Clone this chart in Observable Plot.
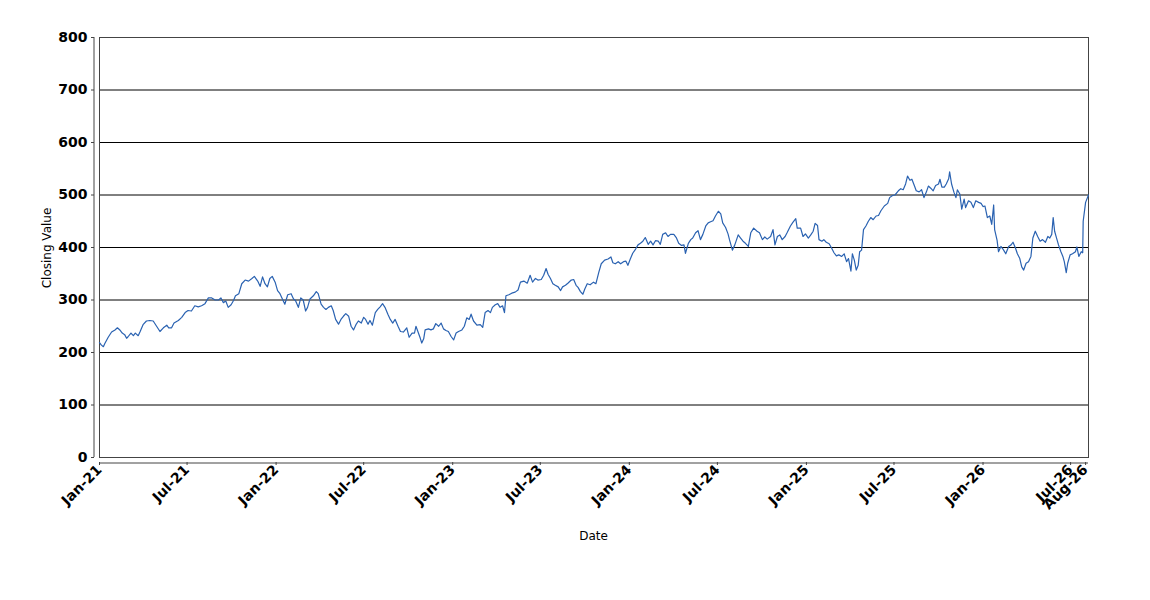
<!DOCTYPE html>
<html><head><meta charset="utf-8">
<script src="https://cdn.jsdelivr.net/npm/d3@7"></script>
<script src="https://cdn.jsdelivr.net/npm/@observablehq/plot@0.6"></script>
<style>body{margin:0;background:#fff}</style>
</head><body><div id="chart"></div>
<script>
const dates = [
"2021-01-01","2021-01-05","2021-01-09","2021-01-12","2021-01-19","2021-01-26","2021-02-02","2021-02-07","2021-02-12","2021-02-17","2021-02-22","2021-02-26","2021-03-01","2021-03-07","2021-03-12","2021-03-16","2021-03-22","2021-03-26","2021-04-01","2021-04-08","2021-04-15","2021-04-22","2021-04-29","2021-05-06","2021-05-13","2021-05-20","2021-05-24","2021-05-30","2021-06-04","2021-06-13","2021-06-20","2021-06-27","2021-07-03","2021-07-10","2021-07-17","2021-07-24","2021-07-31","2021-08-07","2021-08-14","2021-08-21","2021-08-28","2021-09-04","2021-09-09","2021-09-14","2021-09-19","2021-09-24","2021-09-30","2021-10-05","2021-10-09","2021-10-16","2021-10-22","2021-10-29","2021-11-05","2021-11-12","2021-11-17","2021-11-24","2021-11-29","2021-12-04","2021-12-09","2021-12-14","2021-12-19","2021-12-24","2021-12-30",
"2022-01-04","2022-01-09","2022-01-14","2022-01-19","2022-01-25","2022-02-01","2022-02-06","2022-02-10","2022-02-16","2022-02-21","2022-02-26","2022-03-03","2022-03-07","2022-03-12","2022-03-19","2022-03-25","2022-03-29","2022-04-04","2022-04-09","2022-04-14","2022-04-19","2022-04-25","2022-04-29","2022-05-04","2022-05-10","2022-05-15","2022-05-20","2022-05-25","2022-05-31","2022-06-05","2022-06-10","2022-06-15","2022-06-20","2022-06-26","2022-07-01","2022-07-05","2022-07-10","2022-07-14","2022-07-19","2022-07-25","2022-07-30","2022-08-04","2022-08-09","2022-08-14","2022-08-20","2022-08-25","2022-08-30","2022-09-04","2022-09-10","2022-09-15","2022-09-21","2022-09-28","2022-10-03","2022-10-09","2022-10-14","2022-10-17","2022-10-21","2022-10-26","2022-10-29","2022-11-02","2022-11-05","2022-11-12","2022-11-17","2022-11-22","2022-11-27","2022-12-03","2022-12-08","2022-12-13","2022-12-18","2022-12-23","2022-12-29",
"2023-01-03","2023-01-08","2023-01-13","2023-01-20","2023-01-25","2023-01-30","2023-02-04","2023-02-08","2023-02-13","2023-02-20","2023-02-27","2023-03-04","2023-03-09","2023-03-15","2023-03-20","2023-03-24","2023-03-30","2023-04-04","2023-04-09","2023-04-14","2023-04-18","2023-04-21","2023-04-27","2023-05-03","2023-05-10","2023-05-16","2023-05-21","2023-05-28","2023-06-04","2023-06-10","2023-06-15","2023-06-21","2023-06-26","2023-07-03","2023-07-08","2023-07-13","2023-07-17","2023-07-22","2023-07-27","2023-08-01","2023-08-07","2023-08-12","2023-08-16","2023-08-22","2023-08-27","2023-09-03","2023-09-08","2023-09-13","2023-09-17","2023-09-22","2023-09-27","2023-10-01","2023-10-06","2023-10-12","2023-10-19","2023-10-24","2023-10-30","2023-11-04","2023-11-11","2023-11-18","2023-11-24","2023-11-28","2023-12-03","2023-12-09","2023-12-14","2023-12-20","2023-12-25","2023-12-29",
"2024-01-03","2024-01-08","2024-01-14","2024-01-19","2024-01-24","2024-01-29","2024-02-03","2024-02-09","2024-02-14","2024-02-19","2024-02-24","2024-03-01","2024-03-05","2024-03-10","2024-03-16","2024-03-21","2024-03-26","2024-04-02","2024-04-07","2024-04-12","2024-04-18","2024-04-23","2024-04-26","2024-05-02","2024-05-07","2024-05-11","2024-05-17","2024-05-22","2024-05-27","2024-06-01","2024-06-07","2024-06-12","2024-06-17","2024-06-22","2024-06-27","2024-07-03","2024-07-08","2024-07-12","2024-07-18","2024-07-23","2024-07-26","2024-08-01","2024-08-06","2024-08-13","2024-08-18","2024-08-23","2024-08-28","2024-09-03","2024-09-08","2024-09-14","2024-09-21","2024-09-26","2024-10-02","2024-10-07","2024-10-12","2024-10-19","2024-10-24","2024-10-28","2024-11-02","2024-11-07","2024-11-12","2024-11-18","2024-11-22","2024-11-29","2024-12-04","2024-12-10","2024-12-13","2024-12-20","2024-12-25","2024-12-30",
"2025-01-05","2025-01-10","2025-01-15","2025-01-19","2025-01-24","2025-01-27","2025-02-02","2025-02-06","2025-02-11","2025-02-17","2025-02-22","2025-02-27","2025-03-04","2025-03-09","2025-03-15","2025-03-20","2025-03-25","2025-03-29","2025-04-03","2025-04-06","2025-04-10","2025-04-14","2025-04-18","2025-04-21","2025-04-25","2025-04-29","2025-05-04","2025-05-09","2025-05-14","2025-05-19","2025-05-25","2025-05-30","2025-06-04","2025-06-11","2025-06-18","2025-06-22","2025-06-28","2025-07-03","2025-07-10","2025-07-15","2025-07-20","2025-07-25","2025-07-29","2025-08-03","2025-08-07","2025-08-12","2025-08-16","2025-08-22","2025-08-27","2025-09-01","2025-09-06","2025-09-10","2025-09-15","2025-09-20","2025-09-25","2025-10-01","2025-10-04","2025-10-08","2025-10-13","2025-10-17","2025-10-22","2025-10-24","2025-10-28","2025-11-02","2025-11-06","2025-11-09","2025-11-14","2025-11-18","2025-11-23","2025-11-26","2025-12-02","2025-12-07","2025-12-12","2025-12-17","2025-12-23","2025-12-28",
"2026-01-01","2026-01-05","2026-01-10","2026-01-15","2026-01-19","2026-01-23","2026-01-25","2026-01-30","2026-02-02","2026-02-07","2026-02-12","2026-02-17","2026-02-23","2026-02-28","2026-03-04","2026-03-09","2026-03-13","2026-03-18","2026-03-22","2026-03-26","2026-03-31","2026-04-05","2026-04-10","2026-04-14","2026-04-19","2026-04-24","2026-04-29","2026-05-04","2026-05-10","2026-05-15","2026-05-19","2026-05-23","2026-05-26","2026-05-29","2026-06-02","2026-06-06","2026-06-11","2026-06-15","2026-06-18","2026-06-22","2026-06-25","2026-06-30","2026-07-05","2026-07-11","2026-07-14","2026-07-18","2026-07-23","2026-07-26","2026-07-27","2026-08-01","2026-08-07"
];
const closes = [
219,214,211,217,229,239,243,247,243,237,234,227,230,237,232,237,232,240,253,260,261,260,250,240,247,252,247,247,256,261,267,276,280,279,289,287,289,293,304,304,300,300,304,295,298,286,291,299,308,312,331,338,336,341,345,336,326,344,331,325,341,345,334,
318,312,302,292,310,312,302,299,286,304,300,279,286,302,308,316,312,292,286,282,286,289,280,263,254,263,269,274,269,250,243,253,260,256,267,263,254,261,252,276,282,287,293,286,273,263,256,263,250,240,239,247,229,237,237,250,240,227,218,226,243,245,243,245,255,250,256,245,242,240,230,
224,237,240,243,250,266,263,273,260,252,253,248,276,280,276,286,291,293,286,289,276,308,310,313,315,319,334,336,332,347,334,341,338,339,347,360,349,341,331,328,325,318,325,328,332,338,339,328,324,316,311,321,331,329,334,331,353,369,376,378,382,371,369,373,369,373,374,366,
378,389,397,405,408,412,419,406,412,405,413,412,406,425,428,421,425,425,419,408,404,405,389,408,415,418,428,432,415,425,441,447,449,451,460,469,464,447,438,426,415,395,405,424,418,412,408,402,428,437,431,428,415,420,416,421,434,405,421,424,415,421,428,441,448,455,437,437,421,426,
418,424,431,446,442,415,412,415,410,407,399,390,384,386,383,388,373,379,355,388,376,357,366,392,395,434,441,450,457,453,460,461,470,479,484,495,499,500,508,512,510,521,536,528,530,518,508,506,510,495,506,517,513,508,518,521,530,515,515,521,531,544,521,505,495,510,502,473,492,476,489,486,476,489,486,484,
478,479,457,460,444,481,434,414,392,402,396,388,402,405,410,399,388,379,363,357,370,373,383,418,431,421,412,415,410,421,418,425,457,431,418,405,392,383,373,352,370,386,388,392,401,383,392,390,450,486,500
];
const xTickDates = ["2021-01-01","2021-07-01","2022-01-01","2022-07-01","2023-01-01","2023-07-01","2024-01-01","2024-07-01","2025-01-01","2025-07-01","2026-01-01","2026-07-01","2026-08-01"];
const yTicks = [0,100,200,300,400,500,600,700,800];
const xLabel = "Date";
const yLabel = "Closing Value";

const parse = d3.utcParse("%Y-%m-%d");
const data = dates.map((d, i) => ({date: parse(d), close: closes[i]}));
const xDomain = d3.extent(data, d => d.date);
const fmt = d3.utcFormat("%b-%y");

const chart = Plot.plot({
  width: 1150,
  height: 600,
  marginLeft: 94,
  marginRight: 62,
  marginTop: 37,
  marginBottom: 138,
  style: {fontFamily: "'DejaVu Sans', sans-serif", fontSize: "14px", color: "#000", background: "#fff", overflow: "visible"},
  x: {type: "utc", domain: xDomain, insetLeft: 5},
  y: {domain: [0, 800], insetBottom: 5},
  marks: [
    Plot.ruleY(yTicks, {x1: xDomain[0], x2: xDomain[1], stroke: "#000", strokeWidth: 1}),
    Plot.frame({insetLeft: 5, insetBottom: 5, stroke: "#444", strokeWidth: 1}),
    Plot.ruleX([xDomain[0]], {y1: 0, y2: 800, dx: -5.5, stroke: "#444"}),
    Plot.ruleY([0], {x1: xDomain[0], x2: xDomain[1], dy: 5.5, stroke: "#444"}),
    Plot.axisY({ticks: yTicks, tickSize: 3, tickPadding: 4, label: null, stroke: "#444", fill: "#000", fontSize: 14, fontWeight: "bold"}),
    Plot.axisX({ticks: xTickDates.map(parse), tickFormat: fmt, tickRotate: -45, tickSize: 3, tickPadding: 2, label: null, stroke: "#444", fill: "#000", fontSize: 14, fontWeight: "bold"}),
    Plot.text([yLabel], {frameAnchor: "left", textAnchor: "middle", dx: -47, dy: -2, rotate: -90, fontSize: 12, fill: "#000"}),
    Plot.text([xLabel], {frameAnchor: "bottom", dx: 2, dy: 77, fontSize: 12, fill: "#000"}),
    Plot.lineY(data, {x: "date", y: "close", stroke: "#2a62b1", strokeWidth: 1.2})
  ]
});
document.getElementById("chart").appendChild(chart);
</script>
</body></html>
